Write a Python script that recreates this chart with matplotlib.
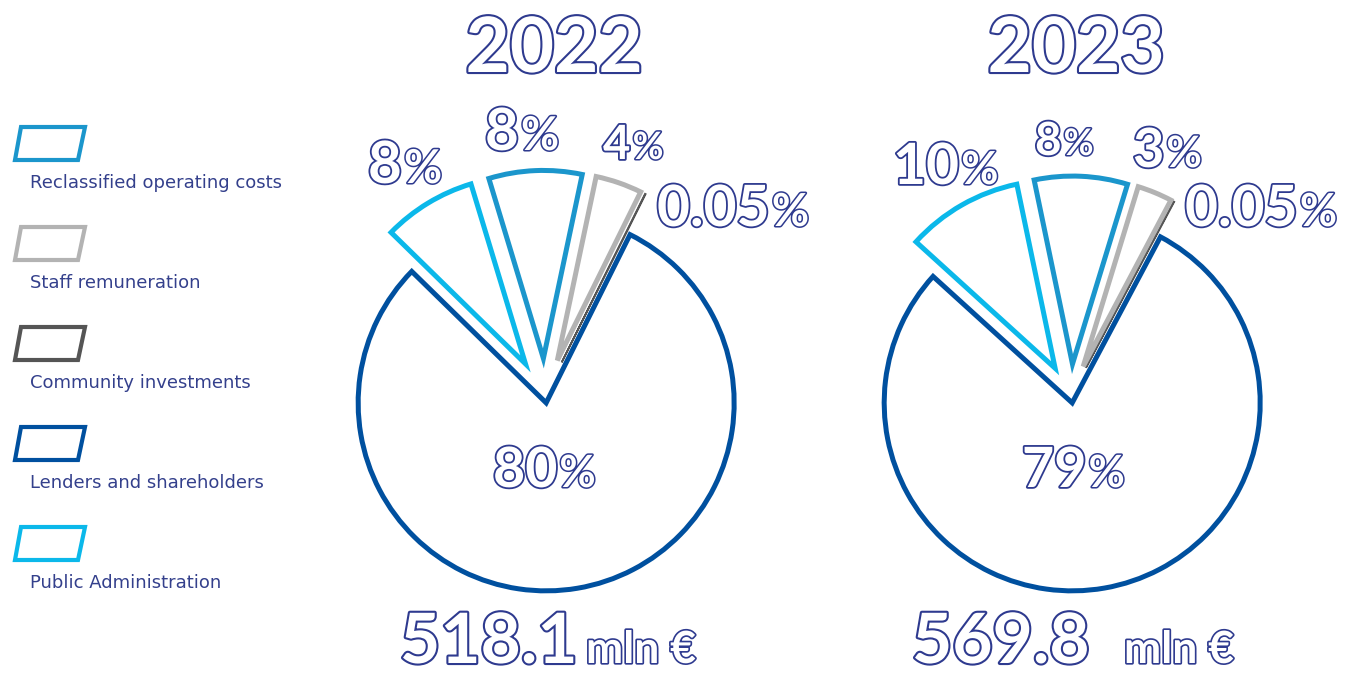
import matplotlib.pyplot as plt
import matplotlib.patheffects as pe
from matplotlib.patches import Polygon

W, H = 1347, 677

categories = ["Reclassified operating costs", "Staff remuneration", "Community investments",
              "Lenders and shareholders", "Public Administration"]
colors = ["#1b96cc", "#b3b3b3", "#555555", "#00509f", "#0bb8ea"]
years = ["2022", "2023"]
share_2022 = [8, 4, 0.05, 80, 8]
share_2023 = [8, 3, 0.05, 79, 10]
totals = ["518.1", "569.8"]

# order of slices, counter-clockwise from the start angle
pie_order = [2, 1, 0, 4, 3]

NAVY = "#2e3a8f"
FONT = "Lato"
R = 188

# layout (pixel positions measured from the top-left corner)
pies = [dict(center=(545, 396), start=63.5, shares=share_2022, year_x=554, total_x=(400, 586),
             explode=[0.2, 0.2, 0.2, 0.2, 0.037],
             labels={0: (485, 150, 42), 1: (603, 159, 34), 2: (657, 226, 41),
                     3: (493, 487, 40), 4: (368, 183, 42)}),
        dict(center=(1071, 396), start=62, shares=share_2023, year_x=1076, total_x=(912, 1124),
             explode=[0.17, 0.17, 0.17, 0.17, 0.037],
             labels={0: (1035, 155, 33), 1: (1133, 167, 39), 2: (1185, 226, 41),
                     3: (1022, 487, 40), 4: (893, 184, 41)})]

fig = plt.figure(figsize=(W / 100, H / 100), dpi=100)
ax = fig.add_axes([0, 0, 1, 1])


def hollow(size, lw=2.6):
    return dict(fontsize=size, fontweight="bold", family=FONT, color="white",
                path_effects=[pe.withStroke(linewidth=lw, foreground=NAVY)])


def pct_label(x, y, value, size):
    t = ax.text(x, H - y, f"{value:g}", ha="left", va="baseline", **hollow(size))
    ax.annotate("%", xy=(1, H - y), xycoords=(t, "data"), xytext=(1.5, 0),
                textcoords="offset points", ha="left", va="baseline",
                **hollow(size * 0.8, lw=2.2))


for year, p in zip(years, pies):
    cx, cy = p["center"]
    vals = [p["shares"][i] for i in pie_order]
    wedges, _ = ax.pie(vals, colors=["white"] * len(vals), startangle=p["start"],
                       center=(cx, H - cy), radius=R,
                       explode=[e * R for e in p["explode"]],
                       wedgeprops=dict(linewidth=3.6, joinstyle="miter"))
    for w, i in zip(wedges, pie_order):
        w.set_edgecolor(colors[i])
        if i == 2:
            w.set_linewidth(1.3)

    for i, (x, y, size) in p["labels"].items():
        pct_label(x, y, p["shares"][i], size)

    ax.text(p["year_x"], H - 72, year, ha="center", va="baseline", **hollow(55, lw=3))

for total, p in zip(totals, pies):
    x1, x2 = p["total_x"]
    ax.text(x1, H - 663, total, ha="left", va="baseline", **hollow(50, lw=3))
    ax.text(x2, H - 663, "mln €", ha="left", va="baseline", **hollow(32, lw=2.4))

# legend: parallelogram marker above each label
for k, (cat, c) in enumerate(zip(categories, colors)):
    top = 127 + 100 * k
    bot = 160 + 100 * k
    ax.add_patch(Polygon([(21, H - top), (85, H - top), (78, H - bot), (15, H - bot)],
                         closed=True, fill=False, edgecolor=c, linewidth=3,
                         joinstyle="miter"))
    ax.text(30, H - (188 + 100 * k), cat, ha="left", va="baseline", fontsize=13,
            family="DejaVu Sans", color="#34408c")

ax.set_xlim(0, W)
ax.set_ylim(0, H)
ax.axis("off")

fig.savefig("out.png", dpi=100, facecolor="white")
